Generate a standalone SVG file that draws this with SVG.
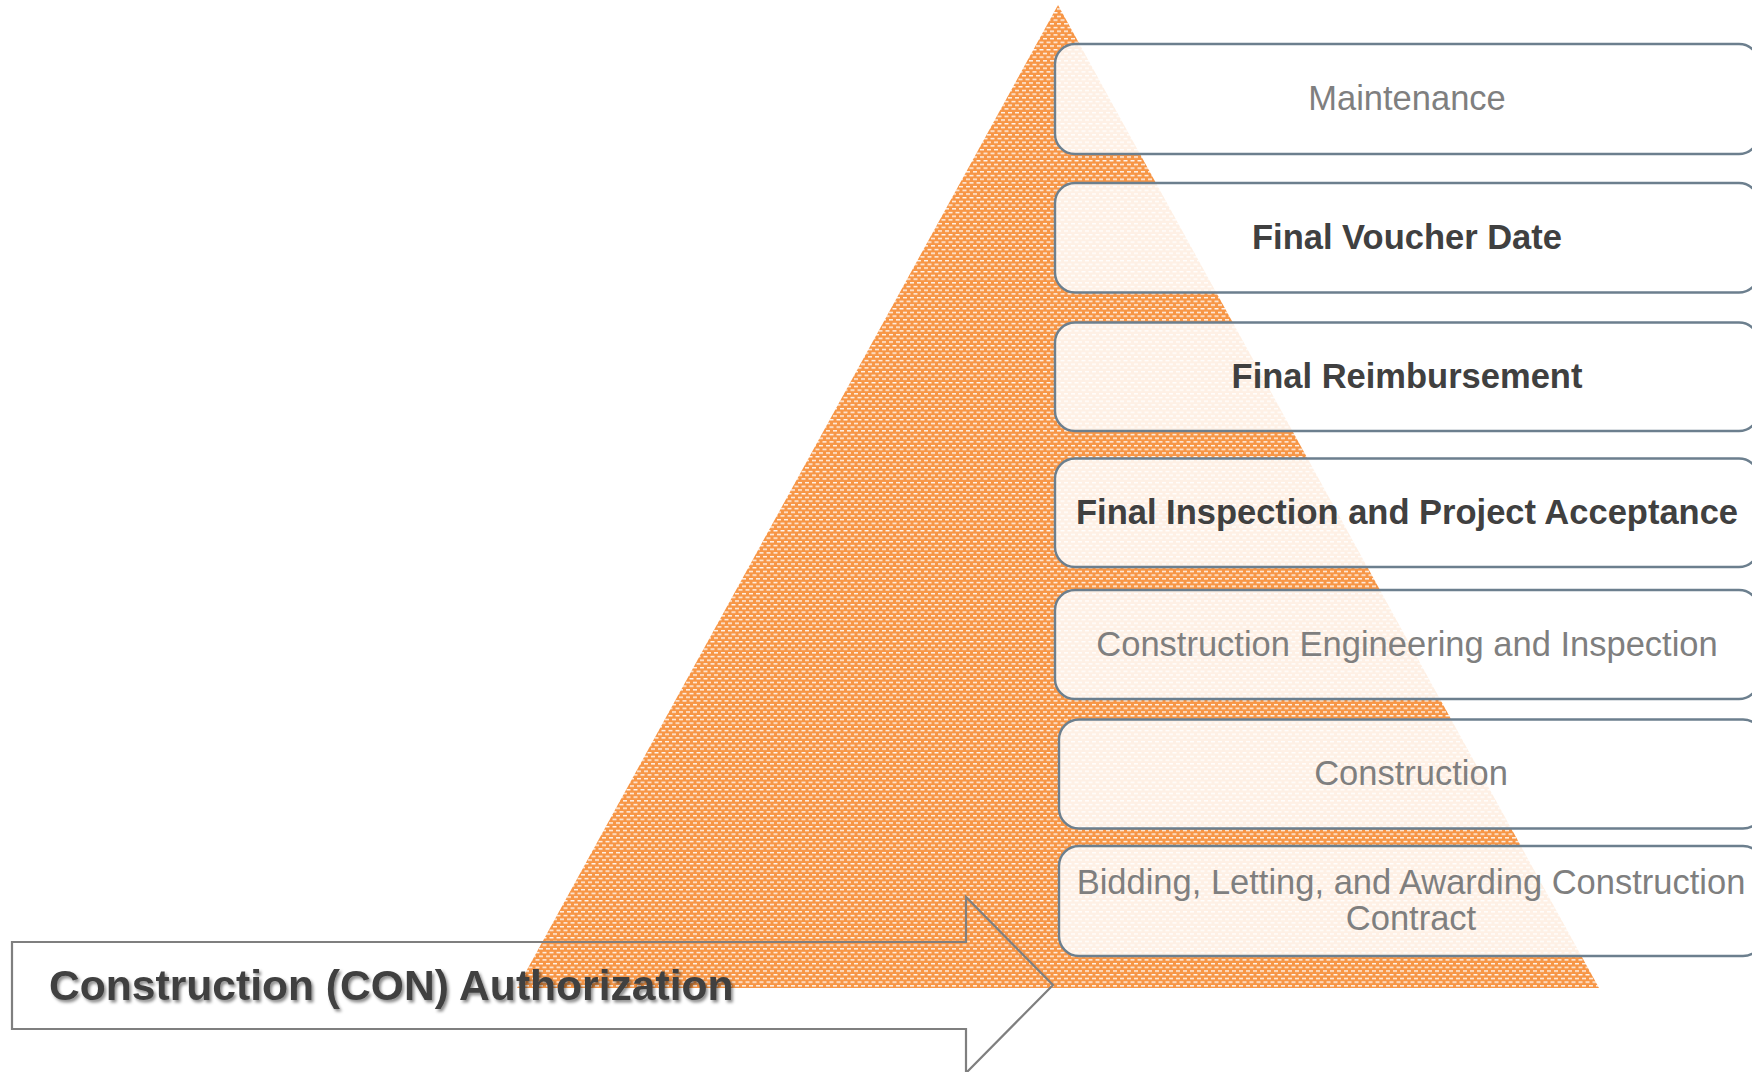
<svg xmlns="http://www.w3.org/2000/svg" width="1752" height="1072" viewBox="0 0 1752 1072">
  <defs>
    <!-- orange fill with small staggered white dashes -->
    <pattern id="dashes" patternUnits="userSpaceOnUse" x="0" y="0" width="7" height="7.4">
      <rect width="7" height="7.4" fill="#f79646"/>
      <rect x="0" y="1" width="4" height="1.3" fill="#ffffff"/>
      <rect x="3.5" y="4.7" width="4" height="1.3" fill="#ffffff"/>
      <rect x="-3.5" y="4.7" width="4" height="1.3" fill="#ffffff"/>
    </pattern>
    <filter id="shadow" x="-5%" y="-30%" width="110%" height="160%">
      <feDropShadow dx="2" dy="2.5" stdDeviation="1.6" flood-color="#000000" flood-opacity="0.45"/>
    </filter>
  </defs>
  <style>
    .step { fill: #ffffff; fill-opacity: 0.86; stroke: #6c7f8e; stroke-width: 2.4; }
    .lbl { font-family: "Liberation Sans", Arial, sans-serif; font-size: 34.5px; text-anchor: middle; }
    .plain { fill: #7f7f7f; }
    .strong { fill: #404040; font-weight: bold; }
    .title { font-family: "Liberation Sans", Arial, sans-serif; font-size: 42.6px; font-weight: bold; fill: #404040; }
  </style>

  <rect width="1752" height="1072" fill="#ffffff"/>

  <!-- pyramid -->
  <g id="pyramid">
    <polygon points="1058,5 1599,988 517,988" fill="url(#dashes)"/>
  </g>

  <!-- authorization arrow -->
  <g id="connectors">
    <polygon id="con-arrow" points="12,942 966,942 966,897 1053,985 966,1073 966,1029 12,1029" fill="none" stroke="#7f7f7f" stroke-width="2.2"/>
  </g>

  <g id="step-maintenance">
    <rect class="step" x="1055" y="44" width="704" height="110" rx="20"/>
    <text class="lbl plain" x="1407" y="110">Maintenance</text>
  </g>
  <g id="step-final-voucher">
    <rect class="step" x="1055" y="183" width="704" height="109.5" rx="20"/>
    <text class="lbl strong" x="1407" y="249">Final Voucher Date</text>
  </g>
  <g id="step-final-reimbursement">
    <rect class="step" x="1055" y="322.5" width="704" height="108.5" rx="20"/>
    <text class="lbl strong" x="1407" y="388">Final Reimbursement</text>
  </g>
  <g id="step-final-inspection">
    <rect class="step" x="1055" y="458.5" width="704" height="108.5" rx="20"/>
    <text class="lbl strong" x="1407" y="524">Final Inspection and Project Acceptance</text>
  </g>
  <g id="step-cei">
    <rect class="step" x="1055" y="590" width="704" height="109" rx="20"/>
    <text class="lbl plain" x="1407" y="656">Construction Engineering and Inspection</text>
  </g>
  <g id="step-construction">
    <rect class="step" x="1059" y="719.5" width="704" height="109" rx="20"/>
    <text class="lbl plain" x="1411" y="785">Construction</text>
  </g>
  <g id="step-bidding">
    <rect class="step" x="1059" y="846" width="704" height="110" rx="20"/>
    <text class="lbl plain" x="1411" y="894">Bidding, Letting, and Awarding Construction</text>
    <text class="lbl plain" x="1411" y="929.5">Contract</text>
  </g>

  <g id="con-authorization">
    <text class="title" x="49" y="1000" filter="url(#shadow)">Construction (CON) Authorization</text>
  </g>
</svg>
